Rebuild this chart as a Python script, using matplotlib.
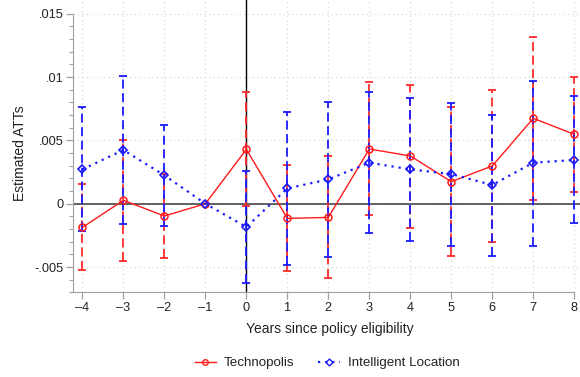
import matplotlib
matplotlib.use("Agg")
import matplotlib.pyplot as plt
from matplotlib.ticker import FixedLocator
from matplotlib.lines import Line2D

plt.rcParams['font.family'] = ['Liberation Sans', 'DejaVu Sans']

years = [-4, -3, -2, -1, 0, 1, 2, 3, 4, 5, 6, 7, 8]

techno_est = [-0.00187, 0.00027, -0.00097, 0.0, 0.00429, -0.00116, -0.00108,
              0.00432, 0.00377, 0.00174, 0.00298, 0.00674, 0.00548]
techno_lo = [-0.00526, -0.00450, -0.00431, None, -0.00016, -0.00531, -0.00589,
             -0.00089, -0.00190, -0.00410, -0.00305, 0.00029, 0.00095]
techno_hi = [0.00153, 0.00502, 0.00238, None, 0.00880, 0.00305, 0.00379,
             0.00958, 0.00937, 0.00766, 0.00898, 0.01318, 0.01000]

intel_est = [0.00271, 0.00424, 0.00224, 0.0, -0.00184, 0.00121, 0.00192,
             0.00324, 0.00271, 0.00234, 0.00148, 0.00324, 0.00345]
intel_lo = [-0.00213, -0.00160, -0.00176, None, -0.00629, -0.00484, -0.00418,
            -0.00234, -0.00294, -0.00334, -0.00410, -0.00331, -0.00155]
intel_hi = [0.00761, 0.01010, 0.00621, None, 0.00260, 0.00721, 0.00805,
            0.00880, 0.00837, 0.00797, 0.00700, 0.00971, 0.00850]

ytick_vals = [-0.005, 0.0, 0.005, 0.01, 0.015]
ytick_labels = ["-.005", "0", ".005", ".01", ".015"]
xtick_labels = ["–4", "–3", "–2", "–1", "0", "1", "2", "3", "4", "5", "6", "7", "8"]

W, H = 580, 377
fig = plt.figure(figsize=(W / 100, H / 100), dpi=100)
left, right, bottom, top = 73, 580, 292.4, 0
ax = fig.add_axes([left / W, 1 - bottom / H, (right - left) / W, (bottom - top) / H])

ax.set_xlim(-4.23, 8.14)
ax.set_ylim(-0.0070, 0.01608)

grid_c = '#d9d9d9'
for y in ytick_vals:
    ax.axhline(y, color=grid_c, lw=0.9, ls=(0, (1, 2.5)), zorder=0)
for x in years:
    ax.axvline(x, color=grid_c, lw=0.9, ls=(0, (1, 2.5)), zorder=0)

ax.axvline(0, color='black', lw=1.0, zorder=1)
ax.axhline(0, color='#555555', lw=1.3, zorder=1)

dash = (0, (5, 2.5))


def draw_ci(xs, lo, hi, color, z):
    xv = [x for x, l in zip(xs, lo) if l is not None]
    lv = [l for l in lo if l is not None]
    hv = [h for h in hi if h is not None]
    ax.vlines(xv, lv, hv, colors=color, linestyles=[dash], lw=1.3, zorder=z)
    ax.plot(xv, lv, ls='none', marker='_', ms=5.5, mew=1.3, color=color, zorder=z)
    ax.plot(xv, hv, ls='none', marker='_', ms=5.5, mew=1.3, color=color, zorder=z)


draw_ci(years, techno_lo, techno_hi, '#ff2a2a', 2)
draw_ci(years, intel_lo, intel_hi, '#1a1aff', 3)

ax.plot(years, techno_est, color='#ff1a1a', lw=1.0, marker='o', ms=5,
        mfc='none', mec='#ff1a1a', mew=1.1, zorder=5)
ax.plot(years, intel_est, color='#1a1aff', lw=1.6, ls=(0, (1, 2.2)), marker='D',
        ms=4.3, mfc='none', mec='#1a1aff', mew=1.2, zorder=6)

ax.set_xticks(years)
ax.set_xticklabels(xtick_labels)
ax.yaxis.set_major_locator(FixedLocator(ytick_vals))
ax.set_yticklabels(ytick_labels)
ax.yaxis.set_minor_locator(FixedLocator([v / 1000 for v in range(-7, 16) if v % 5 != 0]))

for s in ['top', 'right']:
    ax.spines[s].set_visible(False)
spine_c = '#a0a0a0'
ax.spines['left'].set_color(spine_c)
ax.spines['bottom'].set_color(spine_c)
ax.spines['left'].set_bounds(-0.007, 0.015)
ax.spines['bottom'].set_bounds(-4.23, 8)
ax.tick_params(axis='both', which='major', length=5, width=0.9, color=spine_c,
               labelsize=9.2, labelcolor='#222222', pad=2)
ax.tick_params(axis='y', which='minor', length=3, width=0.8, color=spine_c)
ax.patch.set_visible(False)

fig.text(330 / W, 1 - 329 / H, "Years since policy eligibility", ha='center',
         va='center', fontsize=10, color='#222222')
fig.text(20 / W, 1 - 153 / H, "Estimated ATTs", ha='center', va='center',
         rotation=90, fontsize=10, color='#222222')

handles = [
    Line2D([], [], color='#ff1a1a', lw=1.0, marker='o', ms=4, mfc='none', mew=1.0),
    Line2D([], [], color='#1a1aff', lw=1.6, ls=(0, (1, 2.2)), marker='D', ms=3.5,
           mfc='none', mew=1.0),
]
fig.legend(handles, ["Technopolis", "Intelligent Location"], loc='center',
           bbox_to_anchor=(327 / W, 1 - 363 / H), ncol=2, frameon=False,
           fontsize=9.6, handlelength=1.6, columnspacing=1.8, handletextpad=0.6,
           labelcolor='#222222')

fig.savefig("out.png", dpi=100)
